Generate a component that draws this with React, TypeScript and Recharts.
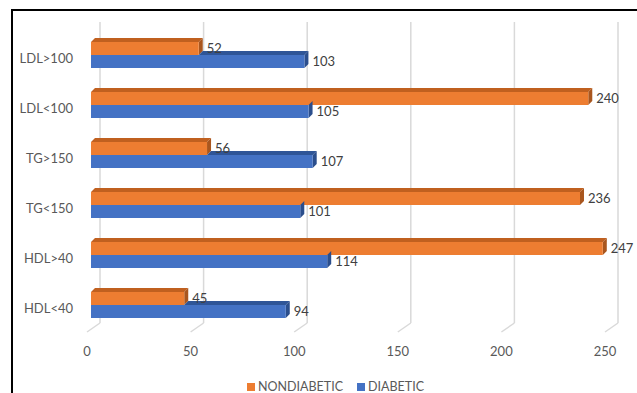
import React from "react";
import {
  BarChart,
  Bar,
  XAxis,
  YAxis,
  CartesianGrid,
  Legend,
  LabelList,
} from "recharts";

// lipid groups, top to bottom
const categories = ["LDL>100", "LDL<100", "TG>150", "TG<150", "HDL>40", "HDL<40"];
const nondiabetic = [52, 240, 56, 236, 247, 45];
const diabetic = [103, 105, 107, 101, 114, 94];
const xTicks = [0, 50, 100, 150, 200, 250];

const data = categories.map((name, i) => ({
  name,
  NONDIABETIC: nondiabetic[i],
  DIABETIC: diabetic[i],
}));

const FONT = "Lato, 'Open Sans', sans-serif";
const DEPTH = 4;

const shades: Record<string, { top: string; side: string }> = {
  "#ED7D31": { top: "#C0601F", side: "#A9561E" },
  "#4472C4": { top: "#2F5597", side: "#2B4E8C" },
};

// 3D-ish bar: front face, top face, right side face
const make3DBar = (hideTopUnder?: string, selfKey?: string) => (props: any) => {
  const { x, y, width, height, fill, payload } = props;
  if (width == null || width <= 0) return <g />;
  const s = shades[fill];
  let topStart = x;
  if (hideTopUnder && selfKey && payload) {
    // the bar above hides part of this bar's top face
    const pxPerUnit = width / payload[selfKey];
    topStart = x + payload[hideTopUnder] * pxPerUnit;
  }
  const d = DEPTH;
  return (
    <g>
      {topStart < x + width && (
        <polygon
          points={`${topStart},${y} ${topStart + d},${y - d} ${x + width + d},${y - d} ${x + width},${y}`}
          fill={s.top}
        />
      )}
      <polygon
        points={`${x + width},${y} ${x + width + d},${y - d} ${x + width + d},${y + height - d} ${x + width},${y + height}`}
        fill={s.side}
      />
      <rect x={x} y={y} width={width} height={height} fill={fill} />
    </g>
  );
};

const GridLine = (props: any) => {
  const { x1, y1, y2 } = props;
  return (
    <g>
      <line x1={x1 + 9} y1={y1 - 8} x2={x1 + 9} y2={y2 - 7} stroke="#D9D9D9" strokeWidth={1.5} />
      <line x1={x1 + 9} y1={y2 - 7} x2={x1 - 4} y2={y2 + 2} stroke="#D9D9D9" strokeWidth={1.5} />
    </g>
  );
};

const XTick = (props: any) => {
  const { x, y, payload } = props;
  return (
    <text x={x - 4} y={y} textAnchor="middle" dy="0.71em" fill="#595959" fontSize={13} fontFamily={FONT}>
      {payload.value}
    </text>
  );
};

const YTick = (props: any) => {
  const { x, y, payload } = props;
  return (
    <text x={x} y={y + 3} textAnchor="end" dy="0.38em" fill="#595959" fontSize={13} fontFamily={FONT}>
      {payload.value}
    </text>
  );
};

const renderLegend = () => (
  <div
    style={{
      display: "flex",
      justifyContent: "center",
      paddingLeft: 62,
      fontFamily: FONT,
      fontSize: 12.5,
      color: "#595959",
    }}
  >
    <span style={{ display: "flex", alignItems: "center", marginRight: 14 }}>
      <span style={{ width: 8, height: 8, background: "#ED7D31", marginRight: 3, display: "inline-block" }} />
      NONDIABETIC
    </span>
    <span style={{ display: "flex", alignItems: "center" }}>
      <span style={{ width: 8, height: 8, background: "#4472C4", marginRight: 3, display: "inline-block" }} />
      DIABETIC
    </span>
  </div>
);

export default function App() {
  return (
    <div style={{ position: "absolute", left: 0, top: 0, width: 637, height: 393, background: "#fff" }}>
      <div
        style={{
          position: "absolute",
          left: 11,
          top: 9,
          right: 0,
          bottom: 0,
          borderTop: "2px solid #000",
          borderLeft: "2px solid #000",
        }}
      />
      <BarChart
        width={637}
        height={393}
        data={data}
        layout="vertical"
        margin={{ top: 30, right: 28, bottom: 13, left: 0 }}
        barCategoryGap={12}
        barGap={0}
        style={{ position: "absolute", left: 0, top: 0 }}
      >
        <CartesianGrid horizontal={false} vertical={GridLine} />
        <XAxis
          type="number"
          domain={[0, 250]}
          ticks={xTicks}
          axisLine={false}
          tickLine={false}
          tickMargin={11}
          height={30}
          tick={XTick}
          interval={0}
        />
        <YAxis
          type="category"
          dataKey="name"
          width={91}
          axisLine={false}
          tickLine={false}
          tickMargin={12}
          tick={YTick}
        />
        <Legend verticalAlign="bottom" content={renderLegend} height={20} wrapperStyle={{ bottom: -6 }} />
        <Bar dataKey="NONDIABETIC" fill="#ED7D31" isAnimationActive={false} shape={make3DBar()}>
          <LabelList dataKey="NONDIABETIC" position="right" offset={8} fill="#404040" fontSize={13} fontFamily={FONT} />
        </Bar>
        <Bar
          dataKey="DIABETIC"
          fill="#4472C4"
          isAnimationActive={false}
          shape={make3DBar("NONDIABETIC", "DIABETIC")}
        >
          <LabelList dataKey="DIABETIC" position="right" offset={8} fill="#404040" fontSize={13} fontFamily={FONT} />
        </Bar>
      </BarChart>
    </div>
  );
}
